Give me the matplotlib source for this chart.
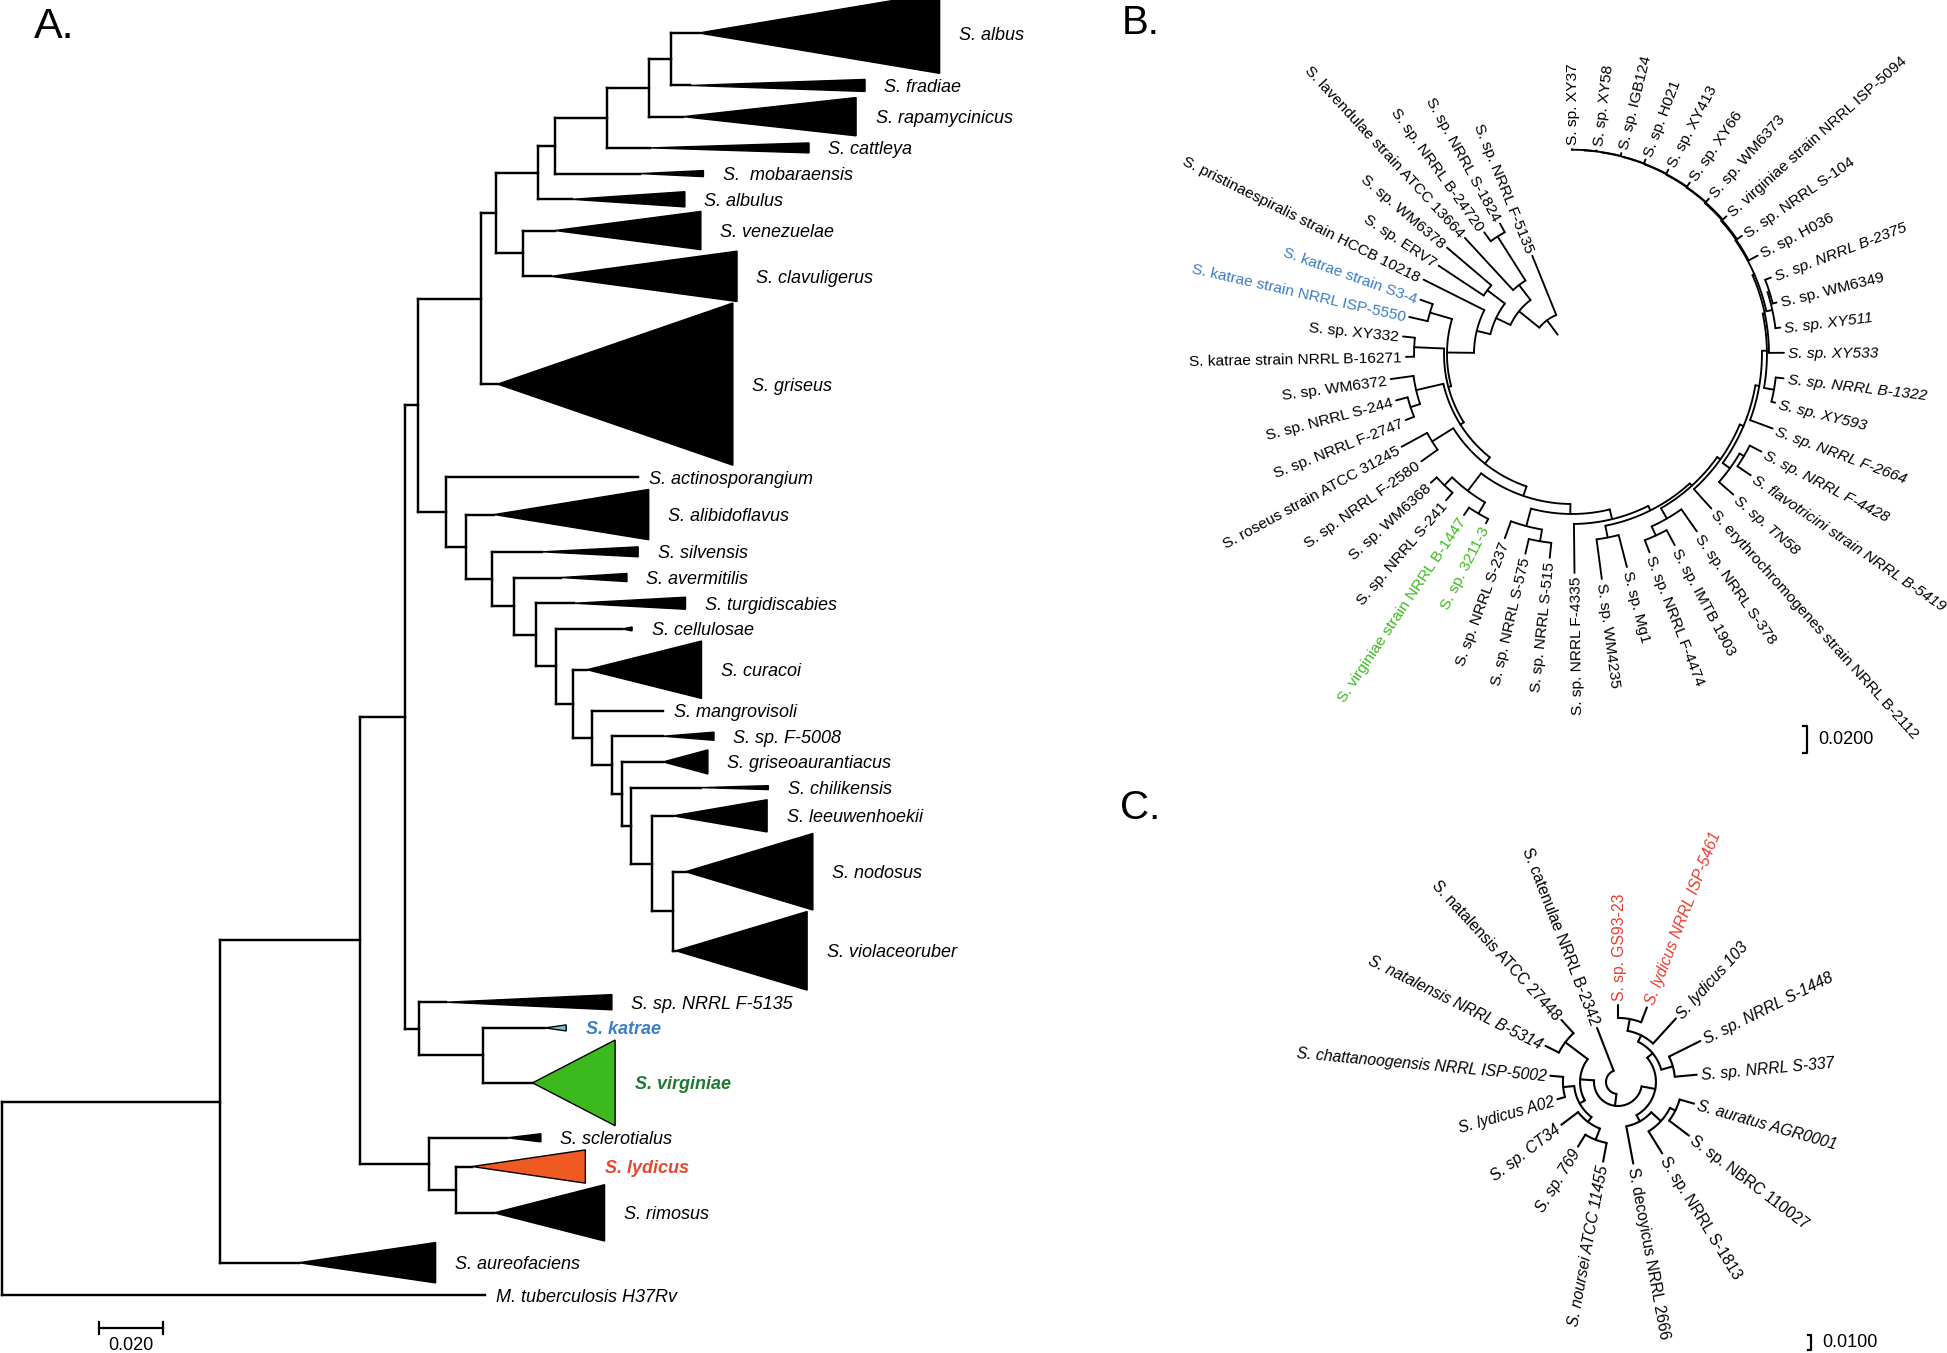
import numpy as np
import matplotlib
matplotlib.use("Agg")
import matplotlib.pyplot as plt
from matplotlib.patches import Polygon

plt.rcParams['font.family'] = ['Liberation Sans', 'DejaVu Sans']

# ================= Panel A : collapsed rectangular tree =================
A_LEAVES = ["S. albus", "S. fradiae", "S. rapamycinicus", "S. cattleya", "S.  mobaraensis",
            "S. albulus", "S. venezuelae", "S. clavuligerus", "S. griseus", "S. actinosporangium",
            "S. alibidoflavus", "S. silvensis", "S. avermitilis", "S. turgidiscabies", "S. cellulosae",
            "S. curacoi", "S. mangrovisoli", "S. sp. F-5008", "S. griseoaurantiacus", "S. chilikensis",
            "S. leeuwenhoekii", "S. nodosus", "S. violaceoruber", "S. sp. NRRL F-5135", "S. katrae",
            "S. virginiae", "S. sclerotialus", "S. lydicus", "S. rimosus", "S. aureofaciens",
            "M. tuberculosis H37Rv"]
# distance from root (substitutions/site) of the collapsed clade node and of its deepest tip
A_APEX = [0.2177, 0.2150, 0.2128, 0.2025, 0.1994, 0.1781, 0.1728, 0.1716, 0.1549, 0.1988,
          0.1538, 0.1688, 0.1747, 0.1788, 0.1938, 0.1828, 0.2066, 0.2066, 0.2066, 0.2184,
          0.2097, 0.2136, 0.2106, 0.1388, 0.1697, 0.1658, 0.1578, 0.1469, 0.1538, 0.0927,
          0.1509]
A_TIP = [0.2930, 0.2697, 0.2669, 0.2522, 0.2192, 0.2134, 0.2184, 0.2297, 0.2284, 0.1988,
         0.2021, 0.1988, 0.1953, 0.2136, 0.1969, 0.2186, 0.2066, 0.2225, 0.2206, 0.2395,
         0.2391, 0.2534, 0.2516, 0.1906, 0.1763, 0.1916, 0.1684, 0.1823, 0.1883, 0.1355,
         0.1509]
# size of each collapsed clade (triangle height, in rows)
A_SPAN = [3.08, 0.46, 1.46, 0.38, 0.23, 0.58, 1.46, 1.92, 6.19, 0.0,
          1.92, 0.38, 0.31, 0.46, 0.15, 2.19, 0.0, 0.31, 0.92, 0.15,
          1.23, 2.92, 3.00, 0.58, 0.23, 3.27, 0.31, 1.27, 2.15, 1.54, 0.0]
# internal nodes: depth, children (leaf index or node name), top to bottom
A_NODES = {
    "M": (0.2091, [0, 1]),
    "L": (0.2023, ["M", 2]),
    "K": (0.1890, ["L", 3]),
    "J": (0.1728, ["K", 4]),
    "I": (0.1674, ["J", 5]),
    "N": (0.1628, [6, 7]),
    "H": (0.1543, ["I", "N"]),
    "G": (0.1497, ["H", 8]),
    "AC": (0.2097, [21, 22]),
    "AB": (0.2031, [20, "AC"]),
    "AA": (0.1966, [19, "AB"]),
    "Z": (0.1938, [18, "AA"]),
    "Y": (0.1906, [17, "Z"]),
    "W": (0.1844, [16, "Y"]),
    "V": (0.1784, [15, "W"]),
    "U": (0.1731, [14, "V"]),
    "T": (0.1669, [13, "U"]),
    "S": (0.1600, [12, "T"]),
    "R": (0.1531, [11, "S"]),
    "Q": (0.1449, [10, "R"]),
    "P": (0.1388, [9, "Q"]),
    "X1": (0.1300, ["G", "P"]),
    "AE": (0.1503, [24, 25]),
    "AD": (0.1303, [23, "AE"]),
    "X0": (0.1259, ["X1", "AD"]),
    "AG": (0.1419, [27, 28]),
    "AF": (0.1333, [26, "AG"]),
    "B": (0.1119, ["X0", "AF"]),
    "A": (0.0681, ["B", 29]),
    "root": (0.0, ["A", 30]),
}
A_TRI_COLOR = {24: "#7cc0d8", 25: "#3cb91c", 27: "#ee5a22"}
A_LABEL_COLOR = {24: "#3b7fc6", 25: "#1d7a30", 27: "#e8462e"}
A_SCALE_VALUE = 0.020

# ================= Panel B : circle tree =================
B_LEAVES = ["S. sp. NRRL F-5135", "S. sp. NRRL S-1824", "S. sp. NRRL B-24720",
            "S. lavendulae strain ATCC 13664", "S. sp. WM6378", "S. sp. ERV7",
            "S. pristinaespiralis strain HCCB 10218", "S. katrae strain S3-4",
            "S. katrae strain NRRL ISP-5550", "S. sp. XY332", "S. katrae strain NRRL B-16271",
            "S. sp. WM6372", "S. sp. NRRL S-244", "S. sp. NRRL F-2747", "S. roseus strain ATCC 31245",
            "S. sp. NRRL F-2580", "S. sp. WM6368", "S. sp. NRRL S-241",
            "S. virginiae strain NRRL B-1447", "S. sp. 3211-3", "S. sp. NRRL S-237",
            "S. sp. NRRL S-575", "S. sp. NRRL S-515", "S. sp. NRRL F-4335", "S. sp. WM4235",
            "S. sp. Mg1", "S. sp. NRRL F-4474", "S. sp. IMTB 1903", "S. sp. NRRL S-378",
            "S. erythrochromogenes strain NRRL B-2112", "S. sp. TN58",
            "S. flavotricini strain NRRL B-5419", "S. sp. NRRL F-4428", "S. sp. NRRL F-2664",
            "S. sp. XY593", "S. sp. NRRL B-1322", "S. sp. XY533", "S. sp. XY511", "S. sp. WM6349",
            "S. sp. NRRL B-2375", "S. sp. H036", "S. sp. NRRL S-104",
            "S. virginiae strain NRRL ISP-5094", "S. sp. WM6373", "S. sp. XY66", "S. sp. XY413",
            "S. sp. H021", "S. sp. IGB124", "S. sp. XY58", "S. sp. XY37"]
B_DEPTH = [0.0785, 0.1104, 0.1111, 0.1170, 0.1215, 0.1185, 0.1230, 0.1193, 0.1237, 0.1259,
           0.1230, 0.1356, 0.1348, 0.1326, 0.1437, 0.1370, 0.1415, 0.1430, 0.1437, 0.1407,
           0.1452, 0.1519, 0.1519, 0.1622, 0.1681, 0.1630, 0.1578, 0.1607, 0.1607, 0.1541,
           0.1585, 0.1600, 0.1578, 0.1585, 0.1548, 0.1578, 0.1570, 0.1556, 0.1563, 0.1578,
           0.1556, 0.1533, 0.1533, 0.1533, 0.1541, 0.1541, 0.1541, 0.1533, 0.1519, 0.1519]
B_NODES = {
    "R": (0.0178, ["N1"]),
    "N1": (0.0311, [0, "N2"]),
    "N2": (0.0504, ["N3", "N4"]),
    "N3": (0.0644, ["pS", 3]),
    "pS": (0.1030, [1, 2]),
    "N4": (0.0622, ["N5", "N6"]),
    "N5": (0.0785, [4, 5]),
    "N6": (0.0726, [6, "BigC"]),
    "BigC": (0.0926, ["Kat", "Y1"]),
    "Kat": (0.1096, [7, 8]),
    "Y1": (0.0948, ["XYp", "Y2"]),
    "XYp": (0.1170, [9, 10]),
    "Y2": (0.0978, ["WMg", "Y3"]),
    "WMg": (0.1185, [11, "Sp244"]),
    "Sp244": (0.1259, [12, 13]),
    "Y3": (0.1037, ["Ros", "Y4"]),
    "Ros": (0.1222, [14, 15]),
    "Y4": (0.1111, ["Sg", "Y5"]),
    "Sg": (0.1274, ["p1", "p2"]),
    "p1": (0.1356, [16, 17]),
    "p2": (0.1370, [18, 19]),
    "Y5": (0.1185, ["S237g", "Y6"]),
    "S237g": (0.1319, [20, "p3"]),
    "p3": (0.1407, [21, 22]),
    "Y6": (0.1259, [23, "Y7"]),
    "Y7": (0.1296, ["p4", "Y8"]),
    "p4": (0.1385, [24, 25]),
    "Y8": (0.1319, ["p5", "Y9"]),
    "p5": (0.1407, ["p6", 28]),
    "p6": (0.1481, [26, 27]),
    "Y9": (0.1348, [29, "Y10"]),
    "Y10": (0.1378, ["p7", "Y11"]),
    "p7": (0.1444, [30, "p8"]),
    "p8": (0.1481, [31, 32]),
    "Y11": (0.1407, [33, "Y12"]),
    "Y12": (0.1444, ["p9", "Y13"]),
    "p9": (0.1519, [34, 35]),
    "Y13": (0.1459, [36, "Y14"]),
    "Y14": (0.1474, ["p10", "Y15"]),
    "p10": (0.1519, [37, "p11"]),
    "p11": (0.1533, [38, 39]),
    "Y15": (0.1481, [40, "Y16"]),
    "Y16": (0.1489, [41, "Y17"]),
    "Y17": (0.1496, [42, "Y18"]),
    "Y18": (0.1500, [43, "Y19"]),
    "Y19": (0.1504, [44, "Y20"]),
    "Y20": (0.1507, [45, "Y21"]),
    "Y21": (0.1509, [46, "Y22"]),
    "Y22": (0.1511, [47, "Y23"]),
    "Y23": (0.1513, [48, 49]),
}
B_COLORS = {7: "#3b7dc4", 8: "#3b7dc4", 18: "#3dbb1d", 19: "#3dbb1d"}
B_ITALIC = [30, 31, 32, 33, 34, 35, 36, 37, 39]
B_SCALE_VALUE = 0.0200

# ================= Panel C : circle tree =================
C_LEAVES = ["S. catenulae NRRL B-2342", "S. natalensis ATCC 27448", "S. natalensis NRRL B-5314",
            "S. chattanoogensis NRRL ISP-5002", "S. lydicus A02", "S. sp. CT34", "S. sp. 769",
            "S. noursei ATCC 11455", "S. decoyicus NRRL 2666", "S. sp. NRRL S-1813",
            "S. sp. NBRC 110027", "S. auratus AGR0001", "S. sp. NRRL S-337", "S. sp. NRRL S-1448",
            "S. lydicus 103", "S. lydicus NRRL ISP-5461", "S. sp. GS93-23"]
C_DEPTH = [0.0387, 0.0560, 0.0540, 0.0453, 0.0420, 0.0473, 0.0507, 0.0540, 0.0553, 0.0560,
           0.0593, 0.0527, 0.0527, 0.0613, 0.0573, 0.0533, 0.0513]
C_NODES = {
    "R": (0.0080, [0, "X"]),
    "X": (0.0160, ["L", "Rt"]),
    "L": (0.0253, ["NP", "L2"]),
    "NP": (0.0440, [1, 2]),
    "L2": (0.0293, ["CA", "L3"]),
    "CA": (0.0367, [3, 4]),
    "L3": (0.0333, [5, "P7"]),
    "P7": (0.0413, [6, 7]),
    "Rt": (0.0253, ["R1", "R2"]),
    "R1": (0.0300, [8, "q"]),
    "q": (0.0387, [9, "q2"]),
    "q2": (0.0427, [10, 11]),
    "R2": (0.0300, ["s1", "s2"]),
    "s1": (0.0380, [12, 13]),
    "s2": (0.0347, [14, "s3"]),
    "s3": (0.0427, [15, 16]),
}
C_COLORS = {15: "#ea3b2c", 16: "#ea3b2c"}
C_ITALIC = [2, 3, 4, 5, 6, 7, 11, 12, 13, 14, 15]
C_SCALE_VALUE = 0.0100

# ================= figure =================
W, H = 1947, 1353
fig = plt.figure(figsize=(W / 100, H / 100), dpi=100)


def px_axes(x0, y0, x1, y1):
    ax = fig.add_axes([x0 / W, 1 - y1 / H, (x1 - x0) / W, (y1 - y0) / H])
    ax.axis('off')
    return ax


# ---------------- Panel A drawing ----------------
axA = px_axes(0, 0, 1000, H)
A_PX = 3200.0   # pixels per substitution unit
A_X0 = 2.0
axA.set_xlim(-A_X0 / A_PX, (1000 - A_X0) / A_PX)

ROW = 26.0
hgt = [s * ROW for s in A_SPAN]
rows = [0.0]
for i in range(1, len(A_LEAVES)):
    a, b = hgt[i - 1], hgt[i]
    gap = max(1.5, 12 - 0.5 * min(a, b))
    rows.append(rows[-1] + max(25.5, 0.5 * (a + b) + gap))
kpx = (1295 - 33) / rows[-1]
axA.set_ylim((H - 33) / kpx, -33 / kpx)


def row_of(py):
    return (py - 33) / kpx


ypos = {}


def a_y(key):
    if isinstance(key, int):
        return rows[key]
    d, ch = A_NODES[key]
    ys = [a_y(c) for c in ch]
    ypos[key] = 0.5 * (ys[0] + ys[-1])
    return ypos[key]


a_y("root")
lwA = 1.75
for key, (d, ch) in A_NODES.items():
    ys = [rows[c] if isinstance(c, int) else ypos[c] for c in ch]
    axA.plot([d, d], [ys[0], ys[-1]], color='k', lw=lwA, solid_capstyle='projecting')
    for c, yc in zip(ch, ys):
        xe = A_APEX[c] if isinstance(c, int) else A_NODES[c][0]
        axA.plot([d, xe], [yc, yc], color='k', lw=lwA, solid_capstyle='projecting')

for i, name in enumerate(A_LEAVES):
    y = rows[i]
    if A_SPAN[i] > 0:
        h = hgt[i] / 2
        col = A_TRI_COLOR.get(i, 'k')
        axA.add_patch(Polygon([(A_APEX[i], y), (A_TIP[i], y - h), (A_TIP[i], y + h)],
                              closed=True, facecolor=col, edgecolor='k', lw=1.0, zorder=3))
        off = 14
    else:
        off = 8
    bold = i in A_LABEL_COLOR
    axA.annotate(name, (A_TIP[i], y), xytext=(off, 0), textcoords='offset points',
                 ha='left', va='center_baseline', fontsize=13, style='italic',
                 fontweight='bold' if bold else 'normal',
                 color=A_LABEL_COLOR.get(i, 'k'))

# scale bar A
xb0 = (99 - A_X0) / A_PX
yb = row_of(1328)
axA.plot([xb0, xb0 + A_SCALE_VALUE], [yb, yb], color='k', lw=1.6)
for xx in (xb0, xb0 + A_SCALE_VALUE):
    axA.plot([xx, xx], [row_of(1322), row_of(1334)], color='k', lw=1.6)
axA.text(xb0 + A_SCALE_VALUE / 2, row_of(1346), f"{A_SCALE_VALUE:.3f}", ha='center',
         va='center', fontsize=13)


# ---------------- circle tree helpers ----------------
def circ_angles(nodes, root, start, step):
    ang = {}

    def visit(k):
        if isinstance(k, int):
            ang[k] = start + step * k
            return ang[k]
        ch = nodes[k][1]
        a = [visit(c) for c in ch]
        ang[k] = 0.5 * (a[0] + a[-1])
        return ang[k]

    visit(root)
    return ang


def draw_circle_tree(ax, nodes, root, leaves, depth, start, step, lw, fs, off,
                     colors, italic):
    ang = circ_angles(nodes, root, start, step)

    def rad(k):
        return depth[k] if isinstance(k, int) else nodes[k][0]

    for k, (d, ch) in nodes.items():
        if len(ch) > 1:
            a0, a1 = ang[ch[0]], ang[ch[-1]]
            t = np.radians(np.linspace(a0, a1, max(3, int(abs(a1 - a0) * 3))))
            ax.plot(d * np.cos(t), d * np.sin(t), color='k', lw=lw, solid_capstyle='round')
        for c in ch:
            t = np.radians(ang[c])
            r1 = rad(c)
            ax.plot([d * np.cos(t), r1 * np.cos(t)], [d * np.sin(t), r1 * np.sin(t)],
                    color='k', lw=lw, solid_capstyle='round')
    for i, name in enumerate(leaves):
        a = ang[i]
        r = depth[i] + off
        t = np.radians(a)
        an = ((a + 89) % 360) - 89
        if -89 < an <= 91:
            rot, ha = an, 'left'
        else:
            rot, ha = an - 180, 'right'
        ax.text(r * np.cos(t), r * np.sin(t), name, rotation=rot, rotation_mode='anchor',
                ha=ha, va='center_baseline', fontsize=fs,
                style='italic' if i in italic else 'normal',
                color=colors.get(i, 'k'))


# ---------------- Panel B drawing ----------------
B_PX = 1350.0
BCX, BCY = 1572, 354
axB = px_axes(1090, 0, W, 770)
axB.set_xlim((1090 - BCX) / B_PX, (W - BCX) / B_PX)
axB.set_ylim(-(770 - BCY) / B_PX, BCY / B_PX)
B_GAP = 22.0
draw_circle_tree(axB, B_NODES, "R", B_LEAVES, B_DEPTH, 90 + B_GAP,
                 (360 - B_GAP) / (len(B_LEAVES) - 1), 1.35, 11.15, 4 / B_PX, B_COLORS, B_ITALIC)
# scale bracket B
sx = (1807 - BCX) / B_PX
sy0 = (BCY - 753) / B_PX
axB.plot([sx - 4 / B_PX, sx, sx, sx - 4 / B_PX],
         [sy0, sy0, sy0 + B_SCALE_VALUE, sy0 + B_SCALE_VALUE], color='k', lw=1.6)
axB.text((1818 - BCX) / B_PX, sy0 + B_SCALE_VALUE / 2, f"{B_SCALE_VALUE:.4f}",
         ha='left', va='center', fontsize=13)

# ---------------- Panel C drawing ----------------
C_PX = 1500.0
CCX, CCY = 1618, 1082
axC = px_axes(1090, 780, W, H)
axC.set_xlim((1090 - CCX) / C_PX, (W - CCX) / C_PX)
axC.set_ylim(-(H - CCY) / C_PX, (CCY - 780) / C_PX)
draw_circle_tree(axC, C_NODES, "R", C_LEAVES, C_DEPTH, 90 + 360 / len(C_LEAVES),
                 360 / len(C_LEAVES), 1.5, 11.3, 4 / C_PX, C_COLORS, C_ITALIC)
cx = (1811 - CCX) / C_PX
cy0 = (CCY - 1350) / C_PX
axC.plot([cx - 3 / C_PX, cx, cx, cx - 3 / C_PX],
         [cy0, cy0, cy0 + C_SCALE_VALUE, cy0 + C_SCALE_VALUE], color='k', lw=1.6)
axC.text((1822 - CCX) / C_PX, cy0 + C_SCALE_VALUE / 2, f"{C_SCALE_VALUE:.4f}",
         ha='left', va='center', fontsize=13)

# ---------------- panel letters ----------------
for lab, px, py, fs in (("A.", 34, 27, 31), ("B.", 1122, 23, 29), ("C.", 1120, 808, 29)):
    fig.text(px / W, 1 - py / H, lab, ha='left', va='center', fontsize=fs)

fig.savefig("out.png", dpi=100)
